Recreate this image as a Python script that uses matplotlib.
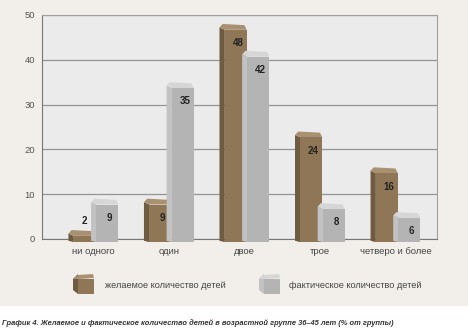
import matplotlib
import numpy as np
from matplotlib import pyplot as plt
from matplotlib.patches import Polygon, Rectangle

matplotlib.rcParams['font.family'] = ['Liberation Sans', 'DejaVu Sans']

# данные
categories = ['ни одного', 'один', 'двое', 'трое', 'четверо и более']
desired = [2, 9, 48, 24, 16]
actual = [9, 35, 42, 8, 6]
series_names = ['желаемое количество детей', 'фактическое количество детей']
yticks = [0, 10, 20, 30, 40, 50]

brown = ('#8f7656', '#6f5b40', '#a89070')   # фронт, бок, верх
grey = ('#b4b4b4', '#c2c2c2', '#d6d6d6')

fig = plt.figure(figsize=(4.68, 3.35), dpi=100)

# фон
bg = fig.add_axes([0, 0, 1, 1], zorder=0)
bg.set_xlim(0, 468)
bg.set_ylim(335, 0)
bg.axis('off')
bg.add_patch(Rectangle((0, 0), 468, 305, color='#f2efea', zorder=0))

ax = fig.add_axes([42 / 468, 1 - 239 / 335, 395 / 468, 224 / 335], zorder=1)
ax.set_facecolor('#ebebeb')
ax.set_xlim(-0.68, 4.55)
ax.set_ylim(0, 50)
ax.set_yticks(yticks)
ax.yaxis.grid(True, color='#949494', lw=0.9)
ax.set_axisbelow(True)
for s in ['top', 'right']:
    ax.spines[s].set_color('#a0a0a0')
for s in ['left', 'bottom']:
    ax.spines[s].set_color('#777777')
ax.tick_params(axis='y', length=0, labelsize=6.8, colors='#555555', pad=5)
ax.tick_params(axis='x', length=0, labelsize=6.8, colors='#444444', pad=6)
ax.set_xticks(np.arange(len(categories)))
ax.set_xticklabels(categories)

d = 0.07     # левая грань
w = 0.29     # передняя грань
dy = 1.3
base = -0.7


def bar3d(x0, v, cols):
    xa = x0 + d
    x1 = xa + w
    top = v - dy
    # левая грань
    ax.add_patch(Polygon([(x0, base + 0.3), (x0, v - 0.6 * dy), (xa, top), (xa, base)],
                         closed=True, fc=cols[1], ec='none', clip_on=False, zorder=3))
    # верх
    ax.add_patch(Polygon([(x0, v - 0.6 * dy), (x0 + 0.6 * d, v), (x1 - 0.03, v - 0.2 * dy),
                          (x1, top), (xa, top)],
                         closed=True, fc=cols[2], ec='none', clip_on=False, zorder=3))
    # фронт
    ax.add_patch(Rectangle((xa, base), w, top - base, fc=cols[0], ec='none',
                           clip_on=False, zorder=3))


for i in range(len(categories)):
    pairs = [(i - 0.33, desired[i], brown), (i - 0.03, actual[i], grey)]
    for x0, v, cols in pairs:
        bar3d(x0, v, cols)
        xc = x0 + d + w * 0.6
        if v < 5:
            ax.text(xc - 0.03, v + 1.0, str(v), ha='center', va='bottom',
                    fontsize=7, fontweight='bold', color='#222222', zorder=5)
        else:
            ax.text(xc, v - 4.3, str(v), ha='center', va='center',
                    fontsize=7, fontweight='bold', color='#222222', zorder=5)


# легенда
def cube(x, y, cols):
    s = 15
    o = 5
    bg.add_patch(Polygon([(x, y + o), (x + o, y), (x + o, y + s + o), (x, y + s + 1)],
                         fc=cols[1], ec='none', zorder=2))
    bg.add_patch(Polygon([(x, y + o), (x + o, y + 1), (x + s + o, y), (x + s + o + 1, y + o - 1),
                          (x + o, y + o)],
                         fc=cols[2], ec='none', zorder=2))
    bg.add_patch(Rectangle((x + o, y + o), s + 1, s, fc=cols[0], ec='none', zorder=2))


cube(73, 274, brown)
cube(259, 274, grey)
bg.text(105, 285, series_names[0], fontsize=6.6, color='#444444', va='center')
bg.text(289, 285, series_names[1], fontsize=6.6, color='#444444', va='center')

bg.text(2, 323, 'График 4. Желаемое и фактическое количество детей в возрастной группе 36–45 лет (% от группы)',
        fontsize=5.4, style='italic', fontweight='bold', color='#333333', va='center')

fig.savefig('out.png', dpi=100)
